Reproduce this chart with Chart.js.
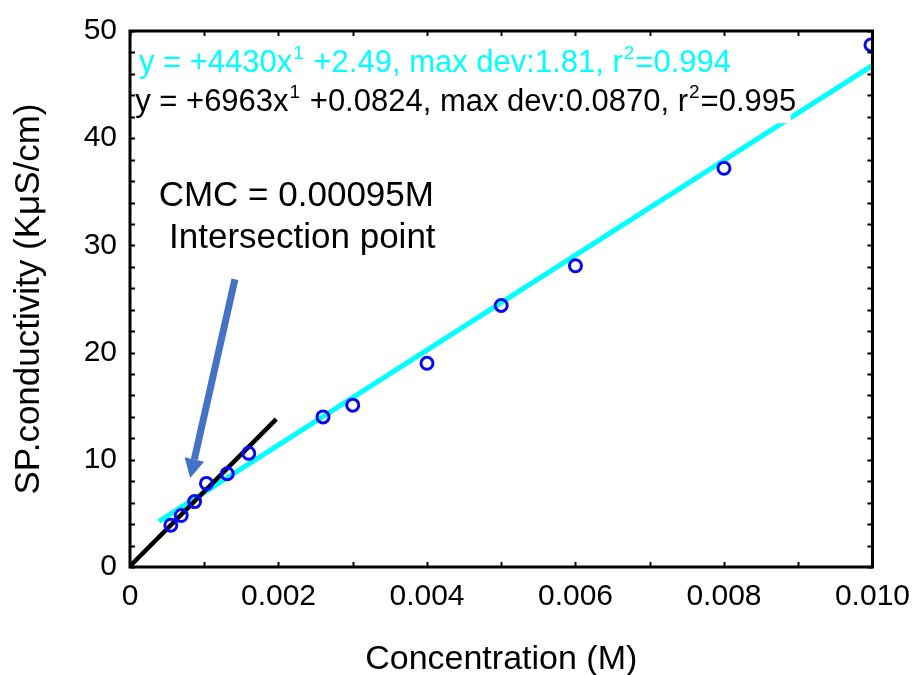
<!DOCTYPE html>
<html>
<head>
<meta charset="utf-8">
<script src="https://cdn.jsdelivr.net/npm/chart.js@4/dist/chart.umd.min.js"></script>
<style>
html,body{margin:0;padding:0;background:#fff;}
#wrap{width:922px;height:675px;position:relative;}
</style>
</head>
<body>
<div id="wrap"><canvas id="c" width="922" height="675"></canvas></div>
<script>
// ---- data ----
const concentration = [0.00055, 0.00069, 0.00087, 0.00103, 0.00131, 0.0016, 0.0026, 0.0030, 0.0040, 0.0050, 0.0060, 0.0080, 0.00998];
const conductivity  = [3.9, 4.8, 6.1, 7.8, 8.7, 10.6, 14.0, 15.1, 19.0, 24.4, 28.1, 37.2, 48.7];
const postFitX = [0.00039, 0.0100];
const postFitY = [4.26, 46.79];
const preFitX = [0.0, 0.00197];
const preFitY = [0.08, 13.8];
const xTickLabels = ['0', '0.002', '0.004', '0.006', '0.008', '0.010'];
const yTickLabels = ['0', '10', '20', '30', '40', '50'];
const eqPost = [['y = +4430x'], ['1', 'sup'], [' +2.49, max dev:1.81, r'], ['2', 'sup'], ['=0.994']];
const eqPre  = [['y = +6963x'], ['1', 'sup'], [' +0.0824, max dev:0.0870, r'], ['2', 'sup'], ['=0.995']];
const cmcLines = ['CMC = 0.00095M', 'Intersection point'];
const xTitle = 'Concentration (M)';
const yTitle = 'SP.conductivity (K\u03BCS/cm)';

const FONT = '"Liberation Sans", Arial, sans-serif';

function toPts(xs, ys){ return xs.map((v,i)=>({x:v, y:ys[i]})); }

function drawRich(ctx, parts, x, y, size, color){
  ctx.fillStyle = color;
  ctx.textBaseline = 'alphabetic';
  ctx.textAlign = 'left';
  let cx = x;
  parts.forEach(p=>{
    if (p[1] === 'sup'){
      ctx.font = Math.round(size*0.62) + 'px ' + FONT;
      ctx.fillText(p[0], cx + 1, y - size*0.42);
      cx += ctx.measureText(p[0]).width + 2;
    } else {
      ctx.font = size + 'px ' + FONT;
      ctx.fillText(p[0], cx, y);
      cx += ctx.measureText(p[0]).width;
    }
  });
  return cx;
}

const decor = {
  id: 'decor',
  afterDatasetsDraw(chart){
    const {ctx, chartArea:a, scales:{x, y}} = chart;
    ctx.save();
    // white box behind black equation
    ctx.fillStyle = '#fff';
    ctx.fillRect(a.left + 2, y.getPixelForValue(45.2), x.getPixelForValue(0.00890) - a.left - 2, y.getPixelForValue(41.4) - y.getPixelForValue(45.2));
    drawRich(ctx, eqPost, x.getPixelForValue(0.00012), y.getPixelForValue(46.2), 31, '#00FFFF');
    drawRich(ctx, eqPre, x.getPixelForValue(0.00007), y.getPixelForValue(42.5), 31, '#000000');

    // CMC text
    ctx.fillStyle = '#000';
    ctx.font = '35px ' + FONT;
    ctx.textAlign = 'center';
    ctx.textBaseline = 'alphabetic';
    const cxp = x.getPixelForValue(0.00224);
    ctx.fillText(cmcLines[0], cxp, y.getPixelForValue(33.7));
    ctx.fillText(cmcLines[1], cxp + 6, y.getPixelForValue(29.8));

    // arrow
    const sx = x.getPixelForValue(0.001413), sy = y.getPixelForValue(26.85);
    const tx = x.getPixelForValue(0.00081), ty = y.getPixelForValue(8.3);
    const ang = Math.atan2(ty - sy, tx - sx);
    const headLen = 19, headW = 10;
    const bx = tx - headLen*Math.cos(ang), by = ty - headLen*Math.sin(ang);
    ctx.strokeStyle = '#4472C4';
    ctx.fillStyle = '#4472C4';
    ctx.lineWidth = 7;
    ctx.lineCap = 'butt';
    ctx.beginPath(); ctx.moveTo(sx, sy); ctx.lineTo(bx, by); ctx.stroke();
    ctx.beginPath();
    ctx.moveTo(tx, ty);
    ctx.lineTo(bx + headW*Math.sin(ang), by - headW*Math.cos(ang));
    ctx.lineTo(bx - headW*Math.sin(ang), by + headW*Math.cos(ang));
    ctx.closePath(); ctx.fill();

    // frame
    ctx.strokeStyle = '#000';
    ctx.lineWidth = 3;
    ctx.strokeRect(a.left, a.top, a.right - a.left, a.bottom - a.top);
    // inward ticks
    ctx.lineWidth = 2;
    ctx.beginPath();
    for (let v = x.min; v <= x.max + 1e-9; v += 0.001){
      const px = Math.round(x.getPixelForValue(v)) + 0.5;
      ctx.moveTo(px, a.bottom); ctx.lineTo(px, a.bottom - 5);
      ctx.moveTo(px, a.top); ctx.lineTo(px, a.top + 5);
    }
    for (let v = y.min; v <= y.max + 1e-9; v += 2){
      const py = Math.round(y.getPixelForValue(v)) + 0.5;
      ctx.moveTo(a.left, py); ctx.lineTo(a.left + 5, py);
      ctx.moveTo(a.right, py); ctx.lineTo(a.right - 5, py);
    }
    ctx.stroke();
    ctx.restore();
  }
};

new Chart(document.getElementById('c'), {
  type: 'scatter',
  data: {
    datasets: [
      { label: 'post-CMC fit', type: 'line', data: toPts(postFitX, postFitY), borderColor: '#00FFFF', borderWidth: 5, pointRadius: 0, fill: false, order: 3 },
      { label: 'pre-CMC fit', type: 'line', data: toPts(preFitX, preFitY), borderColor: '#000000', borderWidth: 4.5, pointRadius: 0, fill: false, order: 2 },
      { label: 'data', data: toPts(concentration, conductivity), pointRadius: 6, pointBorderWidth: 3, pointBorderColor: '#0A0AF0', pointBackgroundColor: 'rgba(0,0,0,0)', showLine: false, order: 1 }
    ]
  },
  options: {
    responsive: false,
    animation: false,
    layout: { padding: { left: 0, right: 42, top: 27, bottom: 0 } },
    plugins: { legend: { display: false }, tooltip: { enabled: false } },
    scales: {
      x: {
        type: 'linear', min: 0, max: 0.010,
        border: { display: false },
        grid: { display: false, drawTicks: false },
        ticks: {
          stepSize: 0.002, padding: 12, color: '#000',
          font: { family: FONT, size: 30 },
          maxRotation: 0, autoSkip: false,
          callback: (v) => xTickLabels[Math.round(v / 0.002)]
        },
        title: { display: true, text: xTitle, color: '#000', font: { family: FONT, size: 34 }, padding: { top: 0, bottom: -5 } },
        afterFit: (s) => { s.height = 108; }
      },
      y: {
        type: 'linear', min: 0, max: 50,
        border: { display: false },
        grid: { display: false, drawTicks: false },
        ticks: {
          stepSize: 10, padding: 13, color: '#000',
          font: { family: FONT, size: 30 },
          callback: (v) => yTickLabels[Math.round(v / 10)]
        },
        title: { display: true, text: yTitle, color: '#000', font: { family: FONT, size: 35 }, padding: { top: 8, bottom: 0 } },
        afterFit: (s) => { s.width = 130; }
      }
    }
  },
  plugins: [decor]
});
</script>
</body>
</html>
